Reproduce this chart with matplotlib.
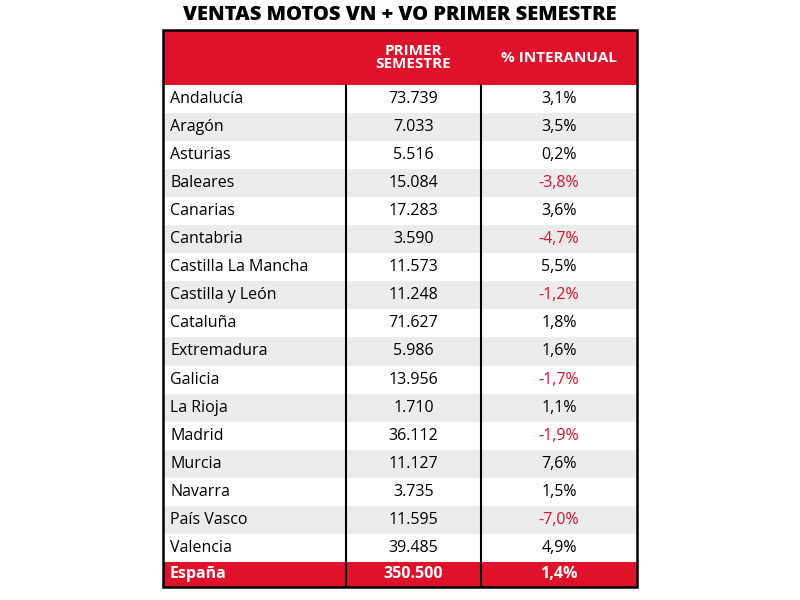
import matplotlib.pyplot as plt
from matplotlib.patches import Rectangle

regions = ['Andalucía', 'Aragón', 'Asturias', 'Baleares', 'Canarias', 'Cantabria',
           'Castilla La Mancha', 'Castilla y León', 'Cataluña', 'Extremadura',
           'Galicia', 'La Rioja', 'Madrid', 'Murcia', 'Navarra', 'País Vasco', 'Valencia']
ventas = ['73.739', '7.033', '5.516', '15.084', '17.283', '3.590', '11.573', '11.248',
          '71.627', '5.986', '13.956', '1.710', '36.112', '11.127', '3.735', '11.595', '39.485']
interanual = [3.1, 3.5, 0.2, -3.8, 3.6, -4.7, 5.5, -1.2, 1.8, 1.6, -1.7, 1.1, -1.9, 7.6,
              1.5, -7.0, 4.9]
total_label = 'España'
total_ventas = '350.500'
total_pct = '1,4%'

RED = '#e0112b'
FONT = 'Open Sans'

fig = plt.figure(figsize=(8, 6), dpi=100)
ax = fig.add_axes([0, 0, 1, 1])
ax.set_xlim(0, 800)
ax.set_ylim(600, 0)
ax.axis('off')

x0, x1, x2, x3 = 163, 346, 481, 637
top, head_h, row_h = 30, 55, 28.05

ax.text(400, 15, 'VENTAS MOTOS VN + VO PRIMER SEMESTRE', ha='center', va='center',
        fontsize=14.5, fontweight='heavy', family=FONT)

# header
ax.add_patch(Rectangle((x0, top), x3 - x0, head_h, color=RED, lw=0))
ax.text((x1 + x2) / 2, top + head_h / 2, 'PRIMER\nSEMESTRE', ha='center', va='center',
        color='white', fontsize=11, fontweight='bold', family=FONT, linespacing=0.95)
ax.text((x2 + x3) / 2, top + head_h / 2, '% INTERANUAL', ha='center', va='center',
        color='white', fontsize=11, fontweight='bold', family=FONT)

y = top + head_h
for i, (r, v, p) in enumerate(zip(regions, ventas, interanual)):
    if i % 2 == 1:
        ax.add_patch(Rectangle((x0, y), x3 - x0, row_h, color='#ececec', lw=0))
    yc = y + row_h / 2
    ax.text(x0 + 7, yc, r, ha='left', va='center', fontsize=11.5, family=FONT)
    ax.text((x1 + x2) / 2, yc, v, ha='center', va='center', fontsize=11.5, family=FONT)
    ax.text((x2 + x3) / 2, yc, f'{p:.1f}%'.replace('.', ','), ha='center', va='center',
            fontsize=11.5, family=FONT, color=RED if p < 0 else 'black')
    y += row_h

tot_h = 25
ax.add_patch(Rectangle((x0, y), x3 - x0, tot_h, color=RED, lw=0))
yc = y + tot_h / 2
for xx, t, ha in [(x0 + 7, total_label, 'left'), ((x1 + x2) / 2, total_ventas, 'center'),
                  ((x2 + x3) / 2, total_pct, 'center')]:
    ax.text(xx, yc, t, ha=ha, va='center', fontsize=11.5, fontweight='bold',
            color='white', family=FONT)
bottom = y + tot_h

for xx in (x1, x2):
    ax.plot([xx, xx], [top + head_h, bottom], color='black', lw=1.5)
ax.add_patch(Rectangle((x0, top), x3 - x0, bottom - top, fill=False, ec='black', lw=1.8))

fig.savefig('out.png', dpi=100)
